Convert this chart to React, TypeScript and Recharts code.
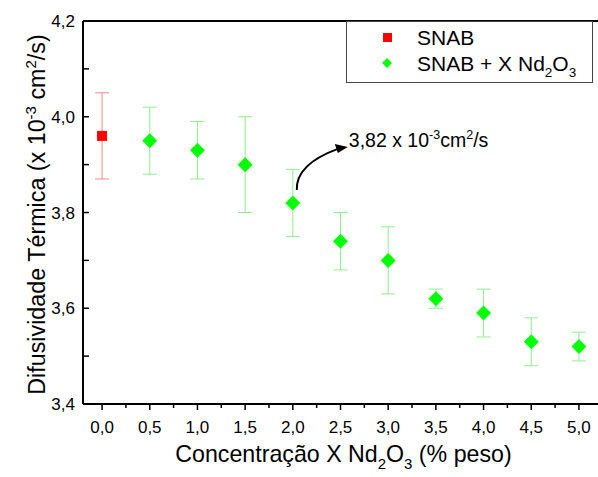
import React from 'react';
import { ScatterChart, Scatter, XAxis, YAxis, ErrorBar, Legend, ReferenceDot, ReferenceLine, Label } from 'recharts';

const FONT = '"Liberation Sans", Arial, Helvetica, sans-serif';

// SNAB (pure)
const snabConc = [0.0];
const snabValues = [3.96];
const snabErrors = [0.09];

// SNAB + X Nd2O3
const ndConc = [0.5, 1.0, 1.5, 2.0, 2.5, 3.0, 3.5, 4.0, 4.5, 5.0];
const ndValues = [3.95, 3.93, 3.90, 3.82, 3.74, 3.70, 3.62, 3.59, 3.53, 3.52];
const ndErrors = [0.07, 0.06, 0.10, 0.07, 0.06, 0.07, 0.02, 0.05, 0.05, 0.03];

const xTicks = [0, 0.25, 0.5, 0.75, 1.0, 1.25, 1.5, 1.75, 2.0, 2.25, 2.5, 2.75, 3.0, 3.25, 3.5, 3.75, 4.0, 4.25, 4.5, 4.75, 5.0];
const xMajorTicks = [0, 0.5, 1.0, 1.5, 2.0, 2.5, 3.0, 3.5, 4.0, 4.5, 5.0];
const yTicks = [3.4, 3.5, 3.6, 3.7, 3.8, 3.9, 4.0, 4.1, 4.2];
const yMajorTicks = [3.4, 3.6, 3.8, 4.0, 4.2];

const annotationPoint = { x: 2.0, y: 3.82 };

const snabData = snabConc.map((x, i) => ({ x, y: snabValues[i], err: snabErrors[i] }));
const ndData = ndConc.map((x, i) => ({ x, y: ndValues[i], err: ndErrors[i] }));

const isIn = (arr: number[], v: number) => arr.some((a) => Math.abs(a - v) < 1e-6);
const fmt = (v: number) => v.toFixed(1).replace('.', ',');

const XTick = (props: any) => {
  const { x, y, payload } = props;
  const v = payload.value;
  const major = isIn(xMajorTicks, v);
  return (
    <g>
      <line x1={x} x2={x} y1={y} y2={y + (major ? 6 : 4)} stroke="#000" strokeWidth={1.5} />
      {major && (
        <text x={x} y={y + 29} textAnchor="middle" fontSize={17} fontFamily={FONT} fill="#000">
          {fmt(v)}
        </text>
      )}
    </g>
  );
};

const YTick = (props: any) => {
  const { x, y, payload } = props;
  const v = payload.value;
  const major = isIn(yMajorTicks, v);
  const ax = x + 8;
  return (
    <g>
      <line x1={ax} x2={ax + 6} y1={y} y2={y} stroke="#000" strokeWidth={1.5} />
      {major && (
        <text x={ax - 8} y={y} dy="0.36em" textAnchor="end" fontSize={17} fontFamily={FONT} fill="#000">
          {fmt(v)}
        </text>
      )}
    </g>
  );
};

const Square = (props: any) => {
  const { cx, cy } = props;
  return <rect x={cx - 5} y={cy - 5} width={10} height={10} fill="#ff0000" />;
};

const Diamond = (props: any) => {
  const { cx, cy } = props;
  const r = 7.5;
  return <polygon points={`${cx},${cy - r} ${cx + r},${cy} ${cx},${cy + r} ${cx - r},${cy}`} fill="#00ff00" />;
};

const Annotation = (props: any) => {
  const { cx, cy } = props;
  return (
    <g>
      <path
        d={`M ${cx + 4} ${cy - 13} Q ${cx + 3} ${cy - 38.5} ${cx + 45} ${cy - 54}`}
        fill="none"
        stroke="#000"
        strokeWidth={2}
      />
      <polygon
        points={`${cx + 55},${cy - 56} ${cx + 42},${cy - 59} ${cx + 45},${cy - 50}`}
        fill="#000"
      />
      <text x={cx + 56} y={cy - 56} fontSize={19.5} fontFamily={FONT} fill="#000">
        3,82 x 10
        <tspan dy={-8} fontSize={12.5}>-3</tspan>
        <tspan dy={8}>cm</tspan>
        <tspan dy={-8} fontSize={12.5}>2</tspan>
        <tspan dy={8}>/s</tspan>
      </text>
    </g>
  );
};

const LegendContent = () => (
  <svg width={247} height={62} style={{ display: 'block' }}>
    <rect x={0.5} y={0.5} width={246} height={61} fill="#fff" stroke="#444" strokeWidth={1} />
    <rect x={37} y={12} width={9} height={9} fill="#ff0000" />
    <text x={71} y={24} fontSize={21} fontFamily={FONT} fill="#000">SNAB</text>
    <polygon points="41,37 46,42 41,47 36,42" fill="#00ff00" />
    <text x={71} y={50} fontSize={21} fontFamily={FONT} fill="#000">
      SNAB + X Nd
      <tspan dy={6} fontSize={13.5}>2</tspan>
      <tspan dy={-6}>O</tspan>
      <tspan dy={6} fontSize={13.5}>3</tspan>
    </text>
  </svg>
);

const YTitle = (props: any) => {
  const vb = props.viewBox || { x: 0, y: 21, width: 83, height: 383 };
  const cx = vb.x + 45;
  const cy = vb.y + vb.height / 2 + 2;
  return (
    <text x={cx} y={cy} transform={`rotate(-90 ${cx} ${cy})`} textAnchor="middle" fontSize={23.3} fontFamily={FONT} fill="#000">
      Difusividade Térmica (x 10
      <tspan dy={-9} fontSize={15}>-3</tspan>
      <tspan dy={9}> cm</tspan>
      <tspan dy={-9} fontSize={15}>2</tspan>
      <tspan dy={9}>/s)</tspan>
    </text>
  );
};

const XTitle = (props: any) => {
  const vb = props.viewBox || { x: 83, y: 404, width: 515, height: 73 };
  const cx = vb.x + vb.width / 2 + 3;
  const cy = vb.y + 58;
  return (
    <text x={cx} y={cy} textAnchor="middle" fontSize={23.2} fontFamily={FONT} fill="#000">
      Concentração X Nd
      <tspan dy={7} fontSize={15}>2</tspan>
      <tspan dy={-7}>O</tspan>
      <tspan dy={7} fontSize={15}>3</tspan>
      <tspan dy={-7}> (% peso)</tspan>
    </text>
  );
};

export default function App() {
  return (
    <div style={{ position: 'absolute', left: 0, top: 0, background: '#fff' }}>
      <ScatterChart width={598} height={477} margin={{ top: 21, right: 0, bottom: 0, left: 0 }}>
        <XAxis
          type="number"
          dataKey="x"
          domain={[-0.2, 5.2]}
          ticks={xTicks}
          interval={0}
          height={73}
          tickSize={0}
          tickMargin={0}
          tickLine={false}
          axisLine={{ stroke: '#000', strokeWidth: 2 }}
          tick={<XTick />}
        >
          <Label content={<XTitle />} />
        </XAxis>
        <YAxis
          type="number"
          dataKey="y"
          domain={[3.4, 4.2]}
          ticks={yTicks}
          interval={0}
          width={83}
          tickSize={0}
          tickMargin={8}
          tickLine={false}
          axisLine={{ stroke: '#000', strokeWidth: 2 }}
          tick={<YTick />}
          allowDataOverflow
        >
          <Label content={<YTitle />} />
        </YAxis>
        <ReferenceLine y={4.2} stroke="#000" strokeWidth={2} />
        <Legend
          layout="vertical"
          align="center"
          verticalAlign="middle"
          content={<LegendContent />}
          wrapperStyle={{ left: 346, top: 21, width: 247, height: 62 }}
        />
        <Scatter name="SNAB" data={snabData} shape={<Square />} isAnimationActive={false}>
          <ErrorBar dataKey="err" direction="y" width={7} stroke="#f08888" strokeWidth={1} />
        </Scatter>
        <Scatter name="SNAB + X Nd2O3" data={ndData} shape={<Diamond />} isAnimationActive={false}>
          <ErrorBar dataKey="err" direction="y" width={7} stroke="#90ee90" strokeWidth={1} />
        </Scatter>
        <ReferenceDot x={annotationPoint.x} y={annotationPoint.y} r={0} shape={<Annotation />} />
      </ScatterChart>
    </div>
  );
}
